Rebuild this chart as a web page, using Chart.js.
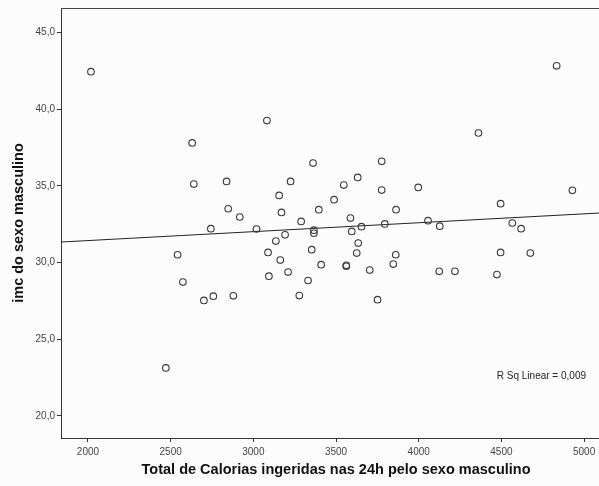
<!DOCTYPE html>
<html>
<head>
<meta charset="utf-8">
<script src="https://cdn.jsdelivr.net/npm/chart.js@4/dist/chart.umd.min.js"></script>
<style>
  html, body { margin: 0; padding: 0; background: #fcfcfc; }
  #wrap { width: 599px; height: 486px; }
</style>
</head>
<body>
<div id="wrap"><canvas id="chart" width="599" height="486"></canvas></div>
<script>
// calories (x) and BMI (y) for each man
const calorias = [
  2018, 3082, 2630, 3361, 2640, 2838, 3225, 3156, 2848, 3170,
  3396, 2918, 3289, 4834, 4361, 3776, 3631, 3547, 3776, 3997,
  3488, 4929, 4495, 3863, 3587, 4056, 2743, 3019, 3192, 3366,
  3366, 3136, 3353, 2542, 3089, 3163, 3410, 3210, 3094, 3331,
  2574, 3278, 2758, 2701, 2879, 2471, 3595, 3654, 3795, 4127,
  4566, 4619, 3634, 3625, 3861, 4495, 4675, 3562, 3562, 3704,
  3846, 4124, 4219, 4473, 3751
];
const imc = [
  42.45, 39.26, 37.80, 36.49, 35.12, 35.29, 35.29, 34.38, 33.51, 33.27,
  33.45, 32.97, 32.68, 42.83, 38.45, 36.60, 35.55, 35.05, 34.73, 34.90,
  34.10, 34.71, 33.84, 33.45, 32.90, 32.73, 32.21, 32.19, 31.81, 32.11,
  31.91, 31.40, 30.84, 30.51, 30.66, 30.16, 29.86, 29.38, 29.11, 28.83,
  28.73, 27.85, 27.81, 27.53, 27.83, 23.13, 32.03, 32.34, 32.52, 32.37,
  32.58, 32.21, 31.27, 30.62, 30.51, 30.66, 30.62, 29.82, 29.76, 29.51,
  29.90, 29.43, 29.43, 29.22, 27.58
];
// fit line end points (R Sq Linear)
const fitX = [1837, 5090];
const fitY = [31.34, 33.23];
const xTicks = [2000, 2500, 3000, 3500, 4000, 4500, 5000];
const yTicks = [20, 25, 30, 35, 40, 45];
const rSqLabel = "R Sq Linear = 0,009";
const xTitle = "Total de Calorias ingeridas nas 24h pelo sexo masculino";

const pontos = calorias.map((c, i) => ({ x: c, y: imc[i] }));
const linha = fitX.map((c, i) => ({ x: c, y: fitY[i] }));

const fontFamily = "'Liberation Sans', Arial, sans-serif";

// top frame line, R² note and the x title (the original plot runs past the
// right edge of the crop, so its title sits centred on the 3500 tick)
const frame = {
  id: "frame",
  afterDraw(chart) {
    const { ctx, chartArea: a, scales } = chart;
    ctx.save();
    ctx.strokeStyle = "#444";
    ctx.lineWidth = 1;
    ctx.beginPath();
    ctx.moveTo(a.left, a.top + 0.5);
    ctx.lineTo(a.right, a.top + 0.5);
    ctx.stroke();

    ctx.fillStyle = "#222";
    ctx.font = "10px " + fontFamily;
    ctx.textAlign = "right";
    ctx.textBaseline = "middle";
    ctx.fillText(rSqLabel, a.right - 13, 376);

    ctx.fillStyle = "#111";
    ctx.font = "bold 14.5px " + fontFamily;
    ctx.textAlign = "center";
    ctx.fillText(xTitle, scales.x.getPixelForValue(3500), 470);
    ctx.restore();
  }
};

const axisFont = { family: fontFamily, size: 10 };
const titleFont = { family: fontFamily, size: 14.5, weight: "bold" };

new Chart(document.getElementById("chart"), {
  type: "scatter",
  data: {
    datasets: [
      {
        data: pontos,
        pointRadius: 3.3,
        pointBorderWidth: 1.1,
        pointBorderColor: "#3a3a3a",
        pointBackgroundColor: "rgba(0,0,0,0)",
        showLine: false,
      },
      {
        type: "line",
        data: linha,
        borderColor: "#222",
        borderWidth: 1,
        pointRadius: 0,
        fill: false,
      },
    ],
  },
  options: {
    responsive: false,
    animation: false,
    layout: { autoPadding: false, padding: { top: 8, right: 0, left: 0, bottom: 0 } },
    plugins: {
      legend: { display: false },
      tooltip: { enabled: false },
    },
    scales: {
      x: {
        type: "linear",
        min: fitX[0],
        max: fitX[1],
        afterBuildTicks: (s) => { s.ticks = xTicks.map((v) => ({ value: v })); },
        afterFit: (s) => { s.height = 48; s.paddingRight = 0; s.paddingLeft = 0; },
        ticks: { color: "#444", font: axisFont, padding: 4, maxRotation: 0, callback: (v) => String(v) },
        grid: { drawOnChartArea: false, color: "#333", tickLength: 4 },
        border: { color: "#333", width: 1 },
        title: { display: false },
      },
      y: {
        type: "linear",
        min: 18.56,
        max: 46.6,
        afterBuildTicks: (s) => { s.ticks = yTicks.map((v) => ({ value: v })); },
        afterFit: (s) => { s.width = 61; s.paddingTop = 0; s.paddingBottom = 0; },
        ticks: { color: "#444", font: axisFont, padding: 2, callback: (v) => v.toFixed(1).replace(".", ",") },
        grid: { drawOnChartArea: false, color: "#333", tickLength: 4 },
        border: { color: "#333", width: 1 },
        title: {
          display: true,
          text: "imc do sexo masculino",
          color: "#111",
          font: titleFont,
          padding: { top: 10, bottom: 0 },
        },
      },
    },
  },
  plugins: [frame],
});
</script>
</body>
</html>
